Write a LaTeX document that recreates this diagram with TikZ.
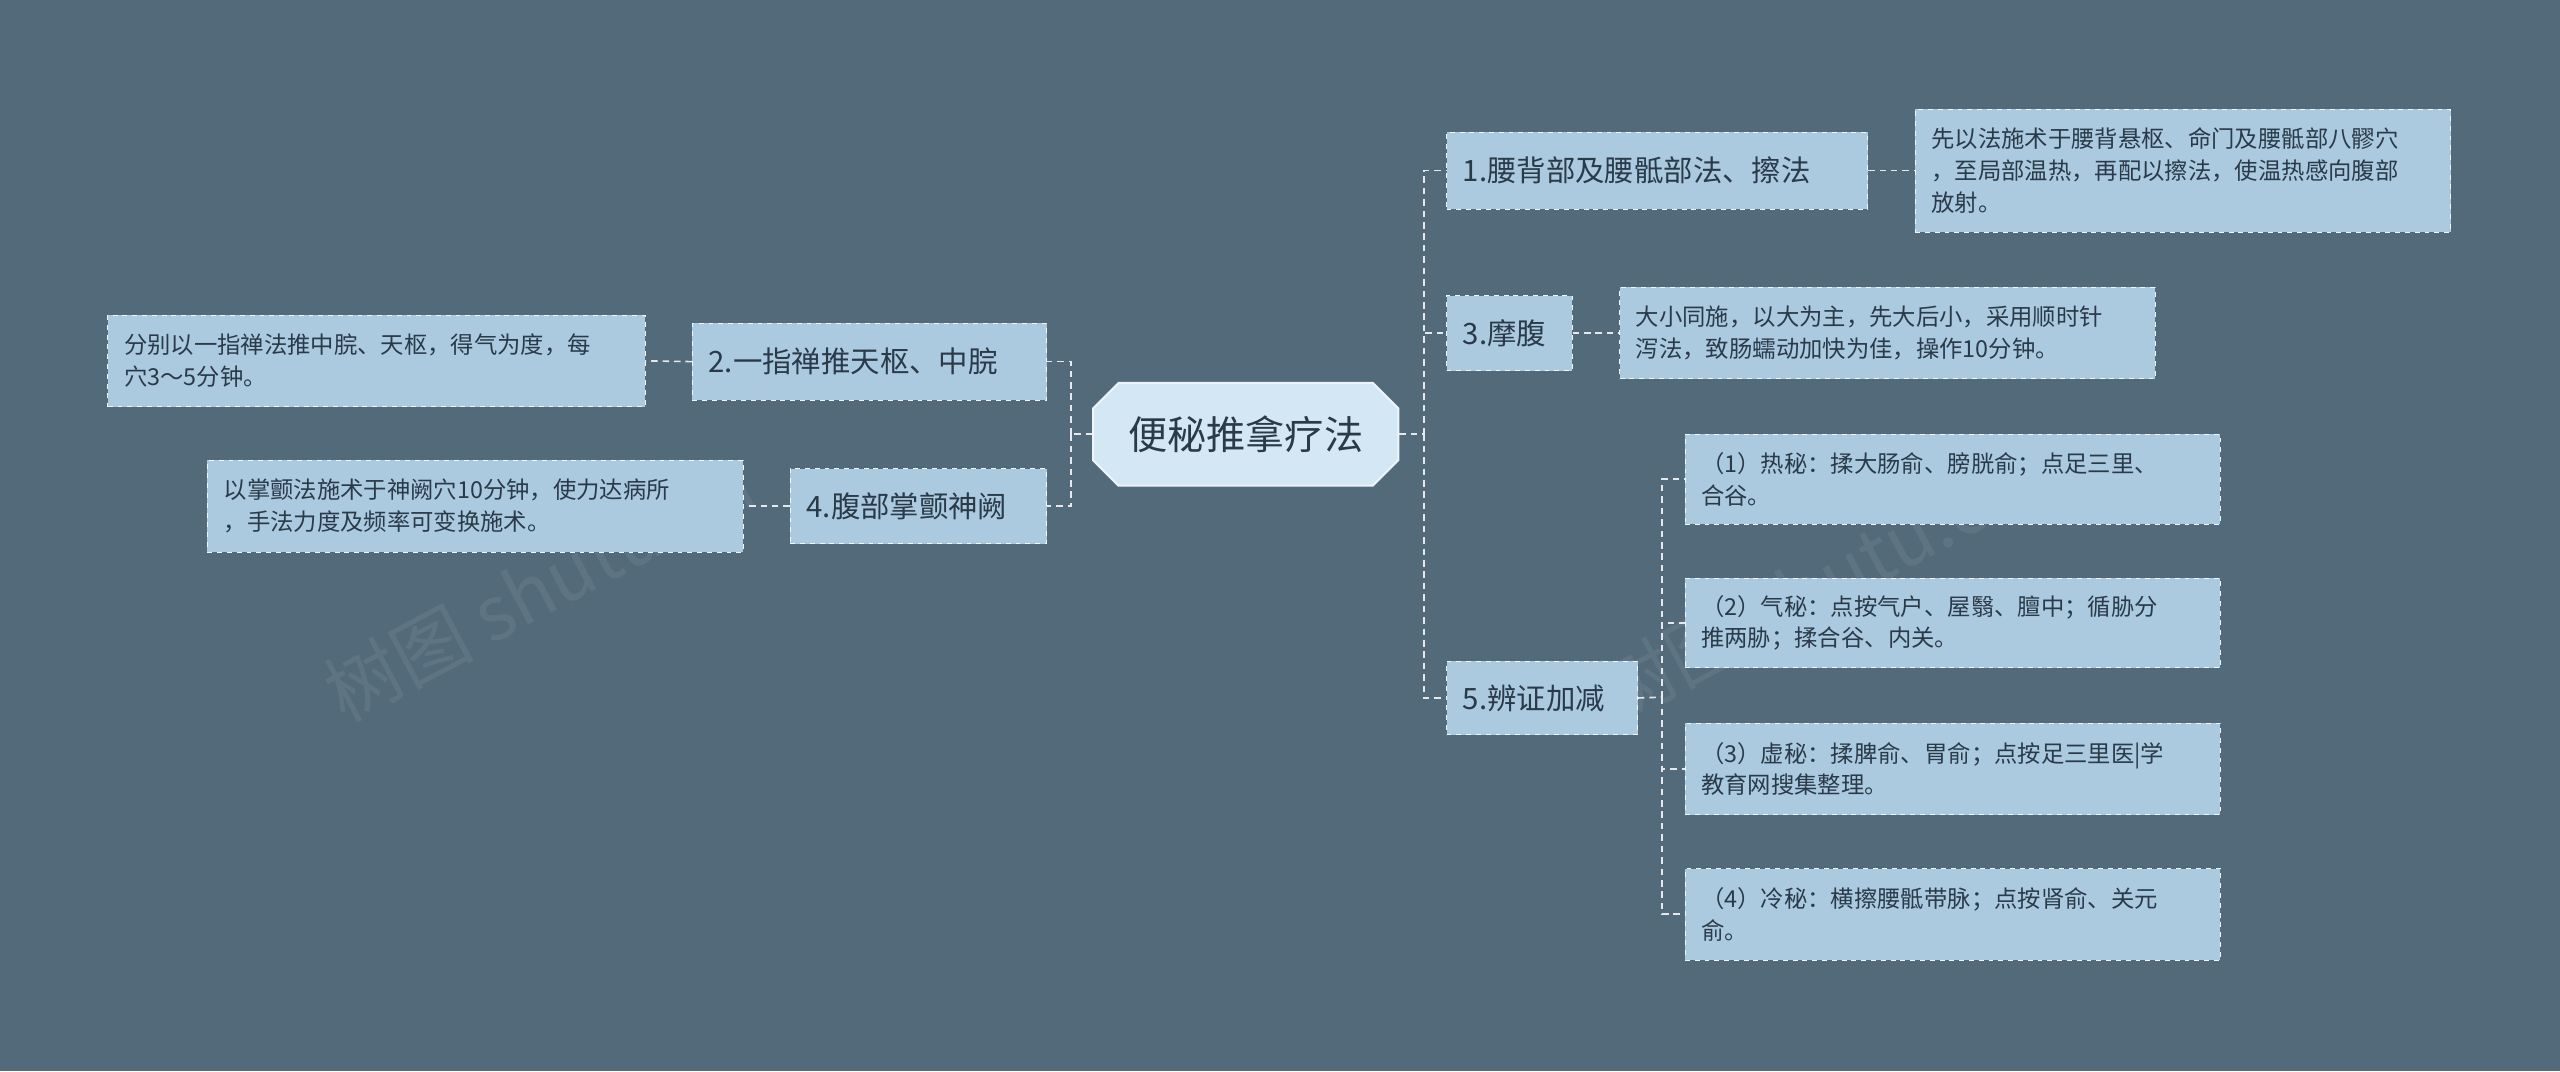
\documentclass[tikz,border=0pt]{standalone}
\usepackage{fontspec}
\setmainfont{Noto Sans CJK SC}
\usetikzlibrary{shapes.misc}
\definecolor{bg}{HTML}{536A7A}
\definecolor{nf}{HTML}{ABCAE0}
\definecolor{cf}{HTML}{D3E7F5}
\definecolor{tx}{HTML}{2A3A48}
\tikzset{
 br/.style={draw=white!85!nf,dashed,fill=nf,text=tx,font=\fontsize{18}{20}\selectfont,inner sep=0pt,align=center},
 lf/.style={draw=white!85!nf,dashed,fill=nf,text=tx,font=\fontsize{14.3}{19.5}\selectfont,inner sep=0pt,align=left},
 ln/.style={draw=white!85!bg,line width=1pt,dash pattern=on 4pt off 3pt},
}
\newcommand{\bx}[7]{%
 \pgfmathsetmacro{\ww}{#5-#3}\pgfmathsetmacro{\hh}{#6-#4}%
 \pgfmathsetmacro{\cx}{(#5+#3)/2}\pgfmathsetmacro{\cy}{(#6+#4)/2}%
 \node[#2,minimum width=\ww pt,minimum height=\hh pt] (#1) at (\cx,\cy) {};
 \node[text=tx,#2,draw=none,fill=none,anchor=west] at ([xshift=10pt]#1.west) {#7};}
\begin{document}
\begin{tikzpicture}[x=1pt,y=-1pt]
\fill[bg] (0,0) rectangle (1568,656);
\useasboundingbox (0,0) rectangle (1568,656);
\foreach \p/\r in {{(330,360)}/28,{(1110,360)}/28}
 \node[text=white,opacity=0.07,font=\fontsize{46}{50}\selectfont,rotate=\r] at \p {树图 shutu.cn};
\node[chamfered rectangle,chamfered rectangle xsep=12pt,draw=white!60!cf,line width=1.2pt,fill=cf,text=tx,font=\fontsize{24}{26}\selectfont,minimum width=187pt,minimum height=63pt,inner xsep=4pt] (c) at (763,266) {便秘推拿疗法};
\bx{n1}{br}{886}{81}{1144}{128}{1.腰背部及腰骶部法、擦法}
\bx{n3}{br}{886}{181}{963}{227}{3.摩腹}
\bx{n5}{br}{886}{405}{1003}{450}{5.辨证加减}
\bx{n2}{br}{424}{198}{641}{245}{2.一指禅推天枢、中脘}
\bx{n4}{br}{484}{287}{641}{333}{4.腹部掌颤神阙}
\bx{l1}{lf}{1173}{67}{1501}{142}{先以法施术于腰背悬枢、命门及腰骶部八髎穴\\，至局部温热，再配以擦法，使温热感向腹部\\放射。}
\bx{l3}{lf}{992}{176}{1320}{232}{大小同施，以大为主，先大后小，采用顺时针\\泻法，致肠蠕动加快为佳，操作10分钟。}
\bx{l2}{lf}{66}{193}{395}{249}{分别以一指禅法推中脘、天枢，得气为度，每\\穴3～5分钟。}
\bx{l4}{lf}{127}{282}{455}{338}{以掌颤法施术于神阙穴10分钟，使力达病所\\，手法力度及频率可变换施术。}
\bx{a}{lf}{1032}{266}{1360}{321}{（1）热秘：揉大肠俞、膀胱俞；点足三里、\\合谷。}
\bx{b}{lf}{1032}{354}{1360}{409}{（2）气秘：点按气户、屋翳、膻中；循胁分\\推两胁；揉合谷、内关。}
\bx{d}{lf}{1032}{443}{1360}{499}{（3）虚秘：揉脾俞、胃俞；点按足三里医|学\\教育网搜集整理。}
\bx{e}{lf}{1032}{532}{1360}{588}{（4）冷秘：横擦腰骶带脉；点按肾俞、关元\\俞。}
\coordinate (tr) at (872,266);
\coordinate (tl) at (656,266);
\coordinate (t5) at (1018,427);
\draw[ln] (c.east) -- (tr);
\draw[ln] (c.west) -- (tl);
\foreach \n in {n1,n3,n5} \draw[ln] (tr) |- (\n.west);
\foreach \n in {n2,n4} \draw[ln] (tl) |- (\n.east);
\draw[ln] (n5.east) -- (t5);
\foreach \n in {a,b,d,e} \draw[ln] (t5) |- (\n.west);
\draw[ln] (n1.east) -- (l1.west);
\draw[ln] (n3.east) -- (l3.west);
\draw[ln] (n2.west) -- (l2.east);
\draw[ln] (n4.west) -- (l4.east);
\end{tikzpicture}
\end{document}
